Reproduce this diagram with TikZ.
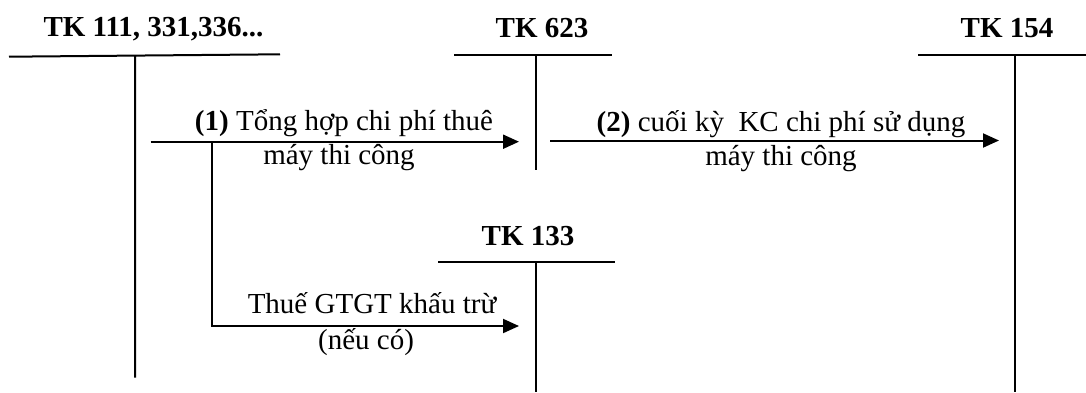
\documentclass[tikz,border=0pt]{standalone}
\usepackage{fontspec}
\setmainfont{Liberation Serif}
\usetikzlibrary{arrows.meta}
\begin{document}
\begin{tikzpicture}[x=1pt,y=-1pt,
  acct/.style={font=\fontsize{29}{34}\selectfont\bfseries, anchor=base, inner sep=0pt},
  lbl/.style={font=\fontsize{29}{34}\selectfont, anchor=base, inner sep=0pt},
  tline/.style={line width=2pt},
  arr/.style={line width=2pt, -{Triangle[length=16pt,width=14pt]}}]
\useasboundingbox (0,0) rectangle (1086,392);
% account titles
\node[acct] (t111) at (153.5,36.7) {TK 111, 331,336...};
\node[acct] (t623) at (542,37.5) {TK 623};
\node[acct] (t154) at (1007,37.5) {TK 154};
\node[acct] (t133) at (528,245) {TK 133};
% T-account coordinates
\coordinate (a1l) at (9,56.7);
\coordinate (a1r) at (280,54.3);
\coordinate (a1t) at (135,55.5);
\coordinate (a1b) at (135,377.5);
\coordinate (a2l) at (454,54.7);
\coordinate (a2r) at (612,54.7);
\coordinate (a2t) at (535.5,54.7);
\coordinate (a2b) at (535.5,170);
\coordinate (a3l) at (918,54.7);
\coordinate (a3r) at (1086,54.7);
\coordinate (a3t) at (1015,54.7);
\coordinate (a3b) at (1015,392);
\coordinate (a4l) at (438,261.7);
\coordinate (a4r) at (615,261.7);
\coordinate (a4t) at (535.7,261.7);
\coordinate (a4b) at (535.7,392);
\draw[tline] (a1l) -- (a1r) (a1t) -- (a1b);
\draw[tline] (a2l) -- (a2r) (a2t) -- (a2b);
\draw[tline] (a3l) -- (a3r) (a3t) -- (a3b);
\draw[tline] (a4l) -- (a4r) (a4t) -- (a4b);
% arrows
\coordinate (s1) at (150.5,141.7);
\coordinate (e1) at (519,141.7);
\coordinate (br) at (212,141.7);
\coordinate (e3) at (519,326);
\coordinate (s2) at (550,140.5);
\coordinate (e2) at (999,140.5);
\draw[arr] (s1) -- (e1);
\draw[arr] (br) |- (e3);
\draw[arr] (s2) -- (e2);
% labels
\node[lbl] (l1a) at (344,130) {\textbf{(1)} Tổng hợp chi phí thuê};
\node[lbl] (l1b) at (339,164) {máy thi công};
\node[lbl] (l2a) at (781,131) {\textbf{(2)} cuối kỳ\ \ KC chi phí sử dụng};
\node[lbl] (l2b) at (781,165) {máy thi công};
\node[lbl] (l3a) at (372,313) {Thuế GTGT khấu trừ};
\node[lbl] (l3b) at (366,349) {(nếu có)};
\end{tikzpicture}
\end{document}
